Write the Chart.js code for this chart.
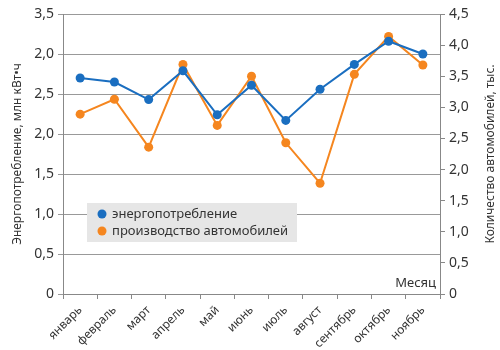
<!DOCTYPE html>
<html>
<head>
<meta charset="utf-8">
<script src="https://cdn.jsdelivr.net/npm/chart.js@4.4.1/dist/chart.umd.min.js"></script>
<style>
    html, body { margin: 0; padding: 0; background: #fff; }
    #wrap { width: 500px; height: 350px; }
</style>
</head>
<body>
<div id="wrap"><canvas id="energyChart" width="500" height="350"></canvas></div>
<script>
"use strict";

const months = ["январь", "февраль", "март", "апрель", "май", "июнь",
    "июль", "август", "сентябрь", "октябрь", "ноябрь"];

// млн кВт•ч
const energyValues = [2.70, 2.65, 2.43, 2.79, 2.24, 2.61, 2.17, 2.56, 2.87, 3.16, 3.00];
// тыс. автомобилей
const carValues = [2.89, 3.13, 2.36, 3.69, 2.71, 3.50, 2.43, 1.78, 3.53, 4.14, 3.68];

const leftTickLabels = ["0", "0,5", "1,0", "1,5", "2,0", "2,5", "2,0", "3,5"];
const rightTickLabels = ["0", "0,5", "1,0", "1,5", "2,0", "2,5", "3,0", "3,5", "4,0", "4,5"];

const seriesNames = ["энергопотребление", "производство автомобилей"];
const leftTitle = "Энергопотребление, млн кВт•ч";
const rightTitle = "Количество автомобилей, тыс.";
const BLUE = "#1a6ec0";
const ORANGE = "#f5861f";
const FONT = "'Noto Sans', sans-serif";

// rotated axis titles, legend box and "Месяц" caption
const overlayPlugin = {
    id: "overlay",
    afterDraw(chart) {
        const ctx = chart.ctx;
        const area = chart.chartArea;
        const midY = (area.top + area.bottom) / 2;
        ctx.save();
        ctx.fillStyle = "#333";
        ctx.font = "12px " + FONT;
        ctx.textAlign = "center";
        ctx.textBaseline = "middle";
        [[18, leftTitle], [491, rightTitle]].forEach(([x, text]) => {
            ctx.save();
            ctx.translate(x, midY);
            ctx.rotate(-Math.PI / 2);
            ctx.fillText(text, 0, 0);
            ctx.restore();
        });

        ctx.fillStyle = "#e6e6e6";
        ctx.fillRect(87, 203, 210, 39);
        const colors = [BLUE, ORANGE];
        ctx.font = "13px " + FONT;
        ctx.textAlign = "left";
        seriesNames.forEach((name, i) => {
            const y = 214 + i * 17;
            ctx.fillStyle = colors[i];
            ctx.beginPath();
            ctx.arc(102, y, 4.5, 0, Math.PI * 2);
            ctx.fill();
            ctx.fillStyle = "#333";
            ctx.fillText(name, 112, y);
        });
        ctx.textAlign = "right";
        ctx.fillText("Месяц", area.right - 4, area.bottom - 11);
        ctx.restore();
    }
};

const ctx = document.getElementById("energyChart").getContext("2d");
new Chart(ctx, {
    type: "line",
    data: {
        labels: months,
        datasets: [{
            label: seriesNames[0],
            data: energyValues,
            yAxisID: "y",
            borderColor: BLUE,
            backgroundColor: BLUE,
            borderWidth: 2,
            pointRadius: 4.5,
            pointBorderWidth: 0,
            tension: 0
        }, {
            label: seriesNames[1],
            data: carValues,
            yAxisID: "y2",
            borderColor: ORANGE,
            backgroundColor: ORANGE,
            borderWidth: 2,
            pointRadius: 4.5,
            pointBorderWidth: 0,
            tension: 0
        }]
    },
    options: {
        responsive: false,
        animation: false,
        layout: { padding: { top: 14, right: 0, left: 0, bottom: 0 } },
        plugins: {
            legend: { display: false },
            tooltip: { enabled: false }
        },
        scales: {
            x: {
                offset: true,
                grid: { offset: true, drawOnChartArea: false, tickLength: 5, color: "#888" },
                border: { color: "#888" },
                ticks: {
                    minRotation: 45,
                    maxRotation: 45,
                    padding: 4,
                    color: "#333",
                    font: { family: FONT, size: 12 }
                },
                afterFit: (scale) => { scale.height = 56; }
            },
            y: {
                position: "left",
                min: 0,
                max: 3.5,
                ticks: {
                    stepSize: 0.5,
                    padding: 4,
                    color: "#333",
                    font: { family: FONT, size: 14 },
                    callback: (value, index) => leftTickLabels[index]
                },
                grid: { color: "#999", lineWidth: 1, tickLength: 5 },
                border: { color: "#888" },
                afterFit: (scale) => { scale.width = 63; }
            },
            y2: {
                position: "right",
                min: 0,
                max: 4.5,
                ticks: {
                    stepSize: 0.5,
                    padding: 4,
                    color: "#333",
                    font: { family: FONT, size: 14 },
                    callback: (value, index) => rightTickLabels[index]
                },
                grid: { drawOnChartArea: false, tickLength: 5, color: "#888" },
                border: { color: "#888" },
                afterFit: (scale) => { scale.width = 60; }
            }
        }
    },
    plugins: [overlayPlugin]
});
</script>
</body>
</html>
